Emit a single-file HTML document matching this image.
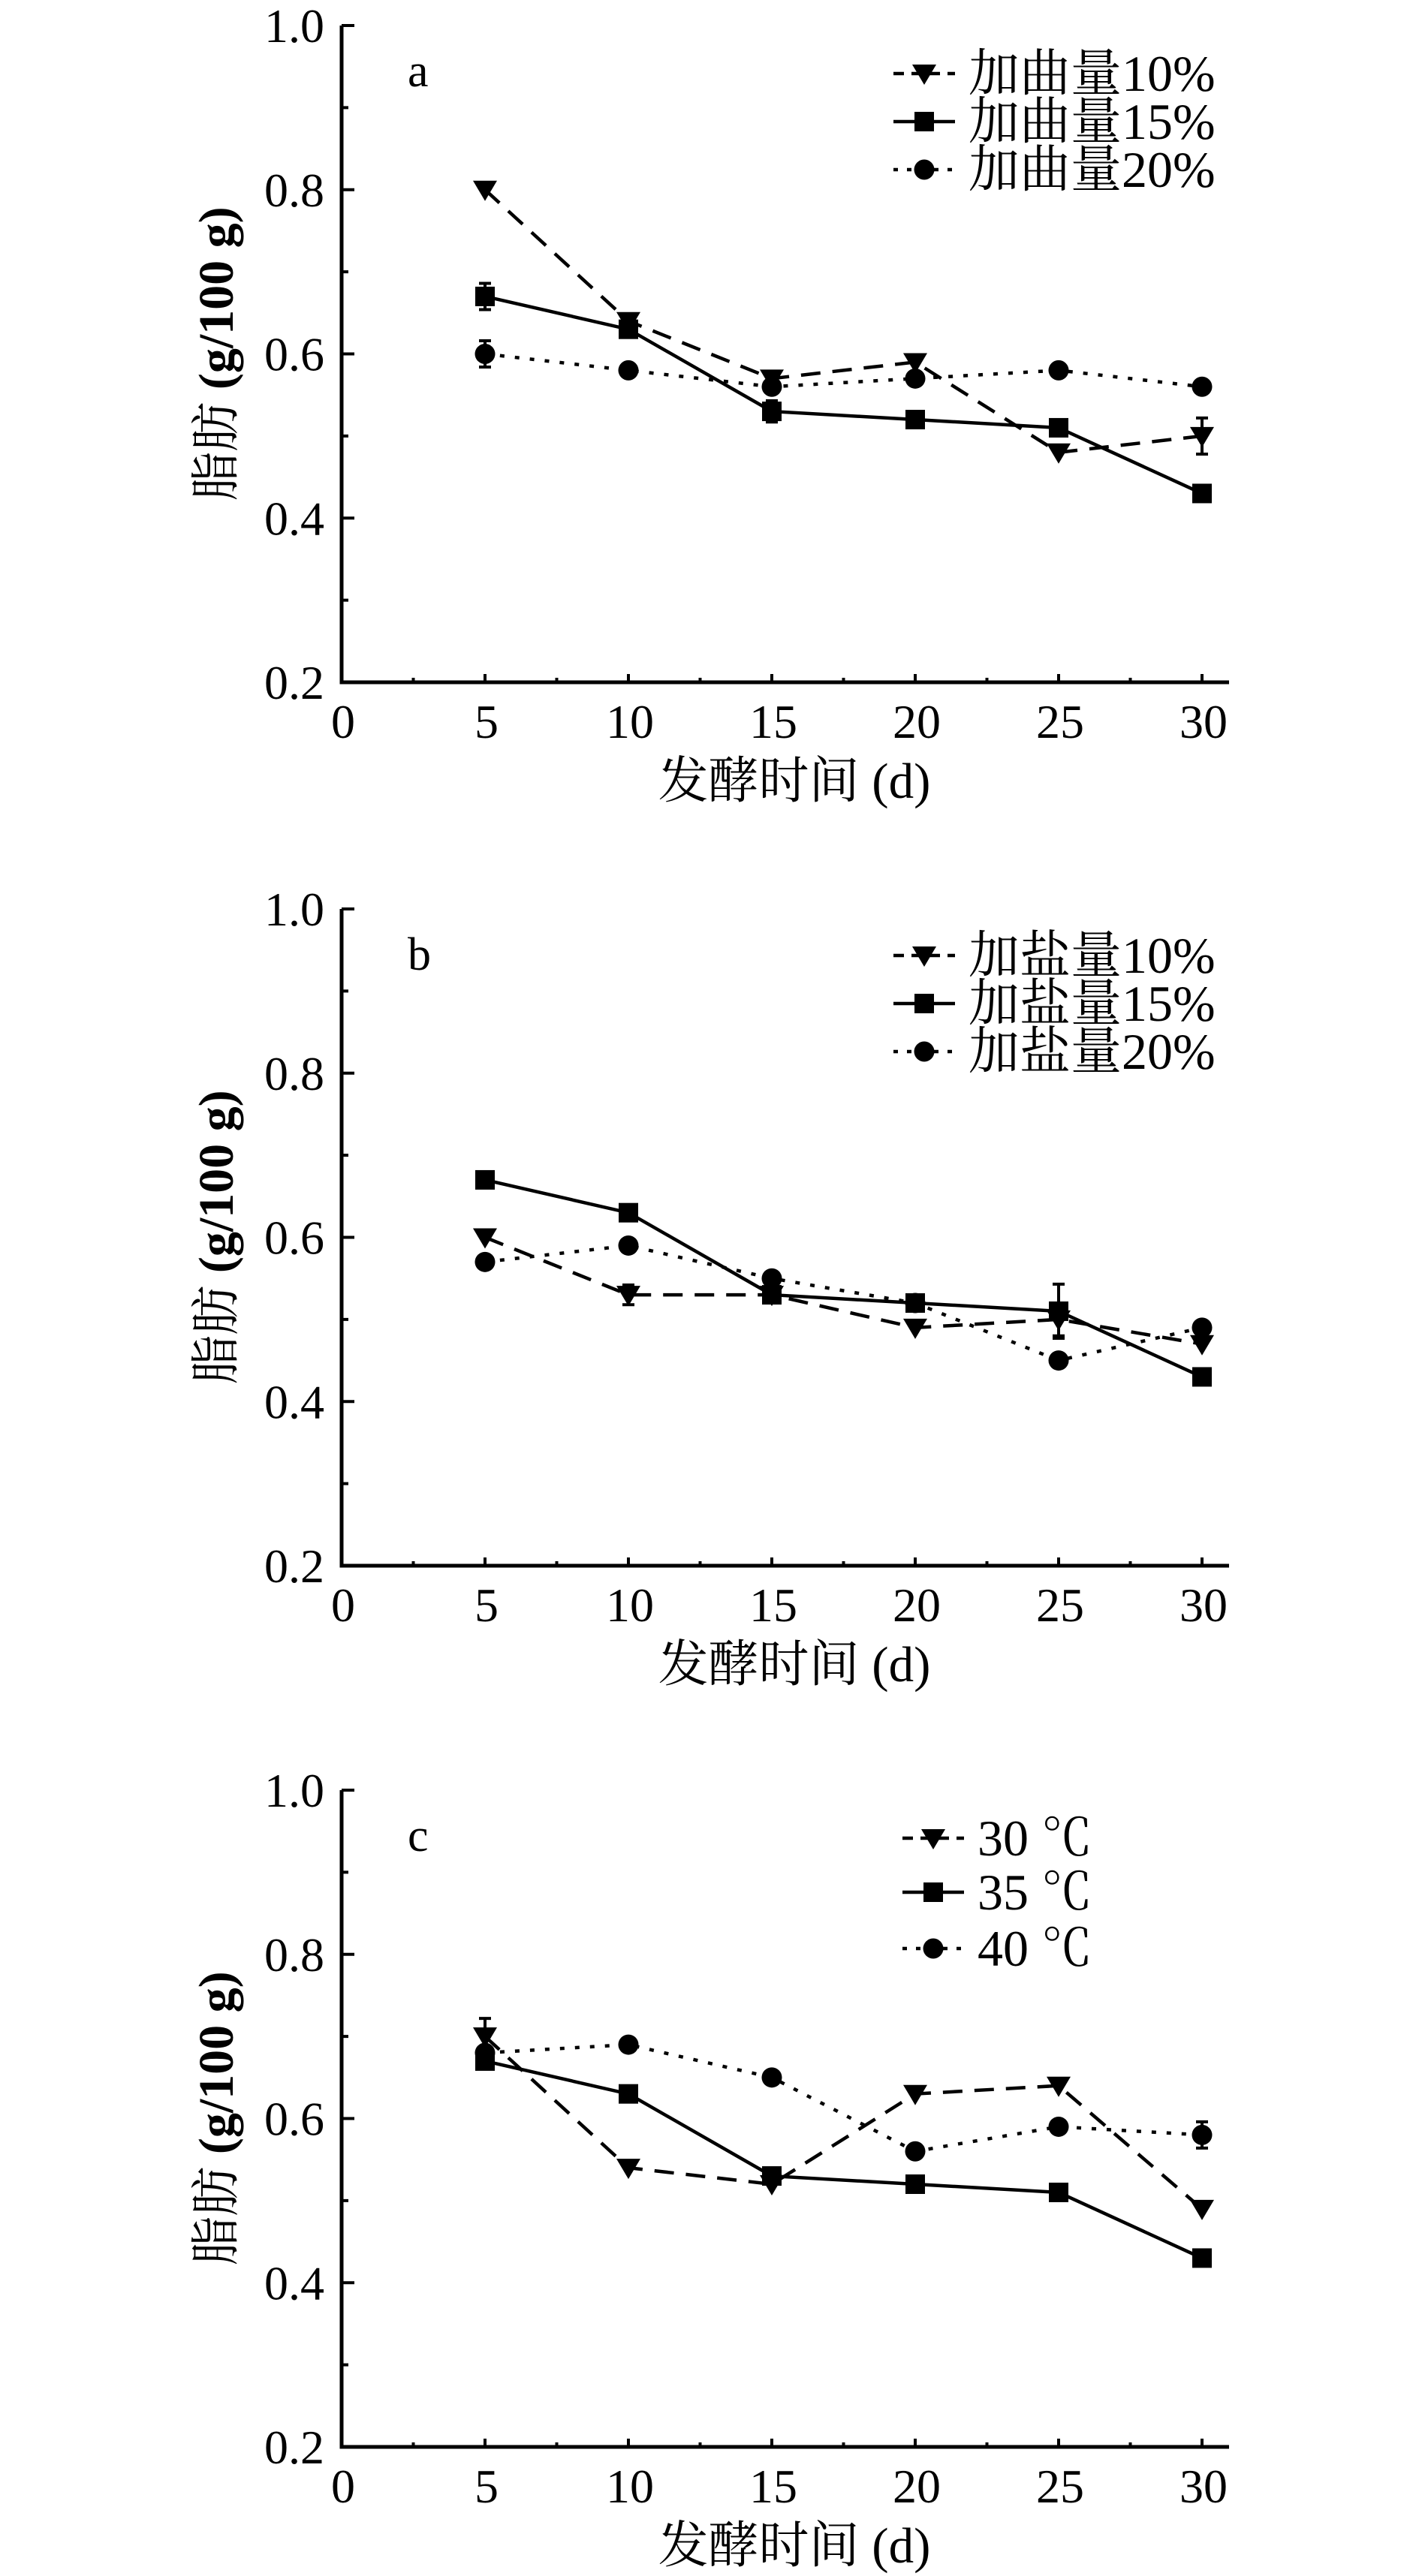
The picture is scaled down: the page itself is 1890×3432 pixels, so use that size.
<!DOCTYPE html>
<html><head><meta charset="utf-8">
<style>
html,body{margin:0;padding:0;background:#fff;}
svg{display:block;}
text{font-family:"Liberation Serif","Noto Serif CJK SC",serif;fill:#000;}
</style></head>
<body>
<svg id="s" width="1890" height="3432" xmlns="http://www.w3.org/2000/svg"></svg>
<script>
const S=document.getElementById('s');let h='';
const X0=455,DX=191/5;
const panels=[
 {top:34,lab:'a',leg:['加曲量10%','加曲量15%','加曲量20%'],lx:1190,ly:[98,162,226],
  d:[[0.80,0.64,0.57,0.59,0.48,0.50],[0.67,0.63,0.53,0.52,0.51,0.43],[0.60,0.58,0.56,0.57,0.58,0.56]],
  e:[[0,0,0,0,0,0.022],[0.016,0,0.013,0,0,0],[0.016,0,0,0,0,0]]},
 {top:1211,lab:'b',leg:['加盐量10%','加盐量15%','加盐量20%'],lx:1190,ly:[1273,1337,1401],
  d:[[0.60,0.53,0.53,0.49,0.50,0.47],[0.67,0.63,0.53,0.52,0.51,0.43],[0.57,0.59,0.55,0.52,0.45,0.49]],
  e:[[0,0.012,0,0,0.02,0],[0,0,0,0,0.033,0],[0,0,0,0,0,0]]},
 {top:2385,lab:'c',leg:['30 ℃','35 ℃','40 ℃'],lx:1202,ly:[2449,2521,2596],
  d:[[0.70,0.54,0.52,0.63,0.64,0.49],[0.67,0.63,0.53,0.52,0.51,0.43],[0.68,0.69,0.65,0.56,0.59,0.58]],
  e:[[0.022,0,0,0,0,0],[0,0,0,0,0,0],[0,0,0,0,0,0.016]]}
];
const dash=['26 16','none','6 14'];
function mk(t,x,y){
 if(t==0)return `<path d="M${x-16} ${y-12}L${x+16} ${y-12}L${x} ${y+15}Z"/>`;
 if(t==1)return `<rect x="${x-13}" y="${y-13}" width="26" height="26"/>`;
 return `<circle cx="${x}" cy="${y}" r="13.5"/>`;
}
panels.forEach(p=>{
 const T=p.top,B=T+875,sy=v=>B-(v-0.2)/0.8*875,sx=d=>X0+d*DX;
 h+=`<path d="M${X0} ${T}V${B}H1637" fill="none" stroke="#000" stroke-width="5"/>`;
 for(let i=0;i<=8;i++){const v=0.2+i*0.1,y=sy(v),maj=i%2==0;
  if(i>0)h+=`<line x1="${X0}" y1="${y}" x2="${X0+(maj?17:9)}" y2="${y}" stroke="#000" stroke-width="4"/>`;
  if(maj)h+=`<text x="432" y="${y+22}" font-size="64" text-anchor="end">${v.toFixed(1)}</text>`;}
 for(let d=2.5;d<=30;d+=2.5){const x=sx(d),maj=d%5==0;
  h+=`<line x1="${x}" y1="${B}" x2="${x}" y2="${B-(maj?11:6)}" stroke="#000" stroke-width="4"/>`;}
 for(let d=0;d<=30;d+=5)h+=`<text x="${sx(d)+2}" y="${B+74}" font-size="64" text-anchor="middle">${d}</text>`;
 h+=`<text x="1058" y="${B+154}" font-size="67" text-anchor="middle">发酵时间 (d)</text>`;
 const cy=(T+B)/2;
 h+=`<text transform="translate(310 ${cy}) rotate(-90)" font-size="66" text-anchor="middle">脂肪 <tspan font-weight="bold">(g/100 g)</tspan></text>`;
 h+=`<text x="543" y="${T+81}" font-size="62">${p.lab}</text>`;
 p.d.forEach((s,k)=>{
  const pts=s.map((v,i)=>`${sx(5+5*i)},${sy(v)}`).join(' ');
  h+=`<polyline points="${pts}" fill="none" stroke="#000" stroke-width="4.5" stroke-dasharray="${dash[k]}"/>`;
  s.forEach((v,i)=>{const x=sx(5+5*i),y=sy(v),e=p.e[k][i];
   if(e){const a=sy(v+e),b=sy(v-e);h+=`<path d="M${x} ${a}V${b}M${x-8} ${a}H${x+8}M${x-8} ${b}H${x+8}" stroke="#000" stroke-width="4"/>`;}
   h+=mk(k,x,y);});
 });
 p.leg.forEach((t,k)=>{const y=p.ly[k],x1=p.lx,x2=p.lx+82;
  h+=`<line x1="${x1}" y1="${y}" x2="${x2}" y2="${y}" stroke="#000" stroke-width="4.5" stroke-dasharray="${k==0?'14 10':k==1?'none':'6 12'}"/>`;
  h+=mk(k,(x1+x2)/2,y);
  h+=`<text x="${x2+18}" y="${y+23}" font-size="68">${t}</text>`;});
});
S.innerHTML=h;
</script>
</body></html>
